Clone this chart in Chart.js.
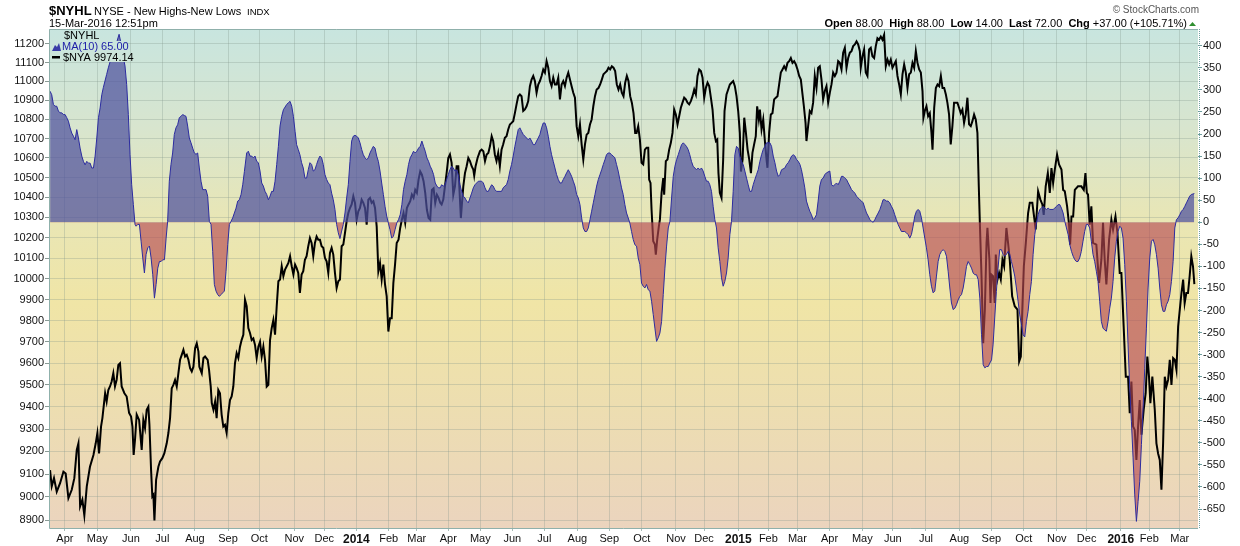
<!DOCTYPE html>
<html>
<head>
<meta charset="utf-8">
<title>$NYHL NYSE - New Highs-New Lows</title>
<script src="https://cdn.jsdelivr.net/npm/chart.js@4.4.1/dist/chart.umd.min.js"></script>
<style>
  html, body { margin: 0; padding: 0; background: #fff; }
</style>
</head>
<body>
<canvas id="grafico" width="1240" height="546"></canvas>
<script>
// $NYA (NYSE composite, log scale) - x = trading day counted from mid-March 2013
const nya = [
  [0.7,9117],[1.8,9046],[3.3,9082],[5.1,9023],[7.3,9060],[9.5,9110],[11.0,9102],[12.8,8995],[15.0,9031],[16.7,9082],
  [18.3,9207],[19.4,9236],[20.5,8959],[22.0,8988],[23.3,8920],[24.9,9046],[27.0,9132],[29.3,9184],[30.8,9236],[31.9,9282],
  [33.0,9191],[34.3,9311],[35.2,9349],[37.0,9462],[38.0,9424],[39.1,9477],[40.2,9493],[41.3,9516],[42.4,9554],[43.5,9493],
  [44.6,9523],[45.7,9592],[46.8,9600],[47.9,9493],[49.7,9462],[51.2,9447],[52.8,9372],[54.1,9356],[55.0,9311],[55.8,9184],
  [56.7,9252],[57.8,9365],[59.4,9341],[61.1,9207],[62.2,9341],[63.3,9304],[64.4,9387],[65.5,9401],[66.2,9319],[67.3,9117],
  [68.1,9002],[68.8,9009],[69.5,8898],[70.6,9075],[72.1,9132],[73.2,9155],[74.7,9170],[76.0,9191],[77.6,9236],[78.7,9282],
  [79.8,9349],[80.9,9485],[82.0,9500],[83.1,9523],[84.2,9493],[85.3,9554],[86.4,9616],[87.5,9639],[88.6,9662],[89.7,9631],
  [90.8,9639],[91.9,9616],[93.0,9577],[94.1,9562],[95.2,9584],[96.3,9670],[97.4,9693],[98.5,9654],[99.1,9584],[100.7,9554],
  [101.8,9624],[102.9,9631],[104.6,9616],[105.5,9569],[106.6,9493],[107.3,9417],[108.4,9387],[109.5,9424],[110.5,9349],[111.6,9477],
  [112.7,9462],[113.8,9365],[114.9,9311],[116.0,9319],[117.1,9282],[118.2,9372],[119.3,9431],[120.4,9447],[121.5,9493],[122.6,9600],
  [123.7,9647],[124.8,9624],[125.9,9677],[127.0,9709],[128.1,9733],[129.2,9899],[130.3,9868],[131.4,9764],[132.5,9741],[133.6,9708],
  [134.7,9716],[135.8,9685],[136.9,9624],[138.0,9677],[139.1,9700],[140.2,9631],[141.3,9677],[142.4,9616],[143.5,9492],[144.6,9500],
  [145.7,9708],[146.8,9764],[147.9,9803],[149.0,9733],[150.1,9868],[151.2,9988],[152.3,9996],[153.4,10060],[154.5,10012],[155.6,10044],
  [156.7,10060],[157.8,10076],[158.9,10109],[160.0,10060],[161.1,10020],[162.2,10068],[163.2,10052],[164.3,10028],[165.4,9931],[166.5,10020],
  [167.6,10036],[168.7,10092],[169.8,10109],[170.9,10158],[172.0,10198],[173.1,10174],[174.2,10109],[175.3,10174],[176.4,10206],[177.5,10190],
  [178.6,10190],[179.7,10158],[180.8,10150],[181.9,10101],[183.0,10084],[184.1,10028],[185.2,10125],[186.3,10150],[187.4,10117],[188.5,10028],
  [189.6,9955],[190.7,9988],[191.8,9996],[192.9,10158],[194.0,10166],[195.1,10223],[196.2,10281],[197.3,10322],[198.4,10347],[199.5,10365],
  [200.6,10406],[201.7,10373],[202.8,10289],[203.9,10330],[205.0,10347],[206.1,10389],[207.2,10373],[208.3,10347],[209.4,10264],[210.5,10389],
  [211.6,10398],[212.7,10373],[213.8,10381],[214.9,10347],[216.0,10256],[217.1,10036],[218.2,10076],[219.3,9996],[220.4,10068],[221.5,9972],
  [222.6,9915],[223.7,9748],[224.8,9811],[225.9,9811],[227.0,9980],[228.1,10068],[229.2,10174],[230.4,10190],[231.5,10248],[232.6,10289],
  [233.7,10322],[234.8,10273],[235.9,10347],[237.0,10365],[238.1,10381],[239.2,10414],[240.3,10398],[241.4,10438],[242.5,10423],[243.6,10490],
  [244.7,10531],[245.8,10515],[246.9,10482],[248.0,10423],[249.1,10338],[250.2,10297],[251.3,10289],[252.4,10438],[253.5,10446],[254.6,10373],
  [255.7,10414],[256.8,10398],[257.9,10373],[258.8,10365],[259.9,10389],[261.0,10456],[262.1,10523],[263.2,10600],[264.3,10618],[265.4,10575],
  [266.5,10414],[267.6,10456],[268.7,10558],[269.8,10558],[270.9,10389],[271.5,10297],[272.4,10389],[273.1,10456],[274.2,10523],[275.3,10558],
  [276.4,10600],[277.5,10584],[278.6,10558],[279.7,10541],[280.3,10510],[281.2,10558],[282.5,10600],[284.1,10635],[285.2,10643],[286.3,10635],
  [287.4,10584],[288.5,10618],[289.6,10626],[290.7,10661],[291.8,10712],[292.8,10687],[293.9,10618],[295.0,10584],[296.1,10626],[297.2,10558],
  [298.3,10643],[299.4,10670],[300.5,10704],[301.6,10712],[302.7,10747],[303.8,10773],[304.9,10781],[306.0,10790],[307.1,10832],[308.2,10878],
  [309.3,10921],[310.4,10930],[311.5,10921],[312.6,10843],[313.7,10851],[314.8,10868],[315.9,10895],[317.0,10974],[318.1,11009],[319.2,11028],
  [320.3,11001],[321.4,10939],[322.5,10983],[323.6,11001],[324.7,11028],[325.8,11063],[326.9,11046],[328.0,11107],[329.1,11072],[330.2,11001],
  [331.3,10974],[332.4,11019],[333.5,10983],[334.6,10983],[335.7,11019],[336.8,10904],[337.9,10983],[339.0,11001],[340.1,10974],[341.2,11019],
  [342.3,11046],[343.4,11009],[344.5,10974],[345.6,10939],[346.7,10913],[347.8,10764],[348.9,10712],[350.0,10773],[351.1,10670],[352.2,10592],
  [353.3,10670],[354.4,10720],[355.5,10729],[356.6,10773],[357.7,10799],[358.8,10868],[359.9,10921],[361.0,10956],[362.2,10964],[363.3,10983],
  [364.4,11009],[365.5,11037],[366.6,11046],[367.7,11054],[368.8,11072],[369.9,11063],[371.0,11080],[372.1,11072],[373.2,11054],[374.3,10983],
  [375.4,10956],[376.5,10983],[377.6,10939],[378.7,10921],[379.8,10992],[380.9,11028],[382.0,11001],[383.1,10921],[384.2,10887],[385.3,10832],
  [386.4,10729],[387.3,10729],[388.4,10764],[389.5,10695],[390.6,10575],[391.7,10567],[392.8,10643],[393.9,10652],[395.0,10652],[395.6,10490],
  [396.5,10473],[397.2,10338],[398.3,10182],[399.4,10166],[400.0,10117],[400.9,10190],[402.0,10256],[402.7,10289],[403.8,10423],[404.9,10498],
  [405.5,10414],[406.6,10584],[407.7,10592],[408.8,10643],[409.9,10678],[411.0,10729],[412.1,10851],[413.2,10825],[414.3,10773],[415.4,10816],
  [416.5,10860],[417.6,10887],[418.7,10913],[419.8,10904],[420.9,10887],[422.0,10878],[423.1,10895],[424.2,10921],[425.3,10956],[426.4,10930],
  [427.5,11028],[428.6,11063],[429.7,11054],[430.8,11019],[431.9,10913],[433.0,10965],[434.1,10992],[435.2,10974],[436.3,10913],[437.4,10851],
  [438.5,10729],[439.6,10687],[440.5,10695],[441.3,10523],[442.2,10423],[443.3,10398],[444.4,10592],[445.3,10843],[446.6,10930],[447.7,10956],
  [448.8,10983],[449.9,10992],[451.0,11001],[452.1,10974],[453.2,10921],[454.3,10843],[455.4,10729],[456.1,10531],[457.2,10592],[458.3,10808],
  [459.4,10729],[460.5,10643],[461.6,10592],[462.7,10523],[463.7,10626],[464.8,10670],[465.9,10712],[466.8,10868],[467.9,10799],[468.6,10851],
  [469.7,10747],[470.8,10799],[471.9,10687],[473.0,10592],[473.6,10550],[474.7,10729],[475.8,10825],[476.9,10832],[478.0,10904],[479.1,10913],
  [480.2,10921],[481.3,10983],[482.4,11046],[483.5,11063],[484.6,11080],[485.7,11063],[486.8,11098],[487.9,11107],[489.0,11124],[490.1,11098],
  [491.2,11107],[492.3,11090],[493.4,11063],[494.5,11028],[495.6,11009],[496.7,10930],[497.6,10868],[498.7,10781],[499.3,10687],[500.4,10764],
  [501.5,10843],[502.6,10832],[503.7,10887],[504.8,11028],[505.9,10965],[507.0,11072],[508.1,11080],[509.2,11009],[510.3,10904],[511.4,10948],
  [512.5,10974],[513.6,10887],[514.7,10939],[515.8,10983],[516.9,11046],[518.0,11028],[519.1,11046],[520.2,11107],[521.3,11098],[522.4,11063],
  [523.5,11153],[524.6,11179],[525.7,11072],[526.8,11124],[527.9,11153],[529.0,11161],[530.1,11188],[531.2,11197],[532.3,11214],[533.4,11197],
  [534.5,11161],[535.1,11072],[536.2,11133],[537.3,11170],[538.4,11046],[539.5,11028],[540.6,11170],[541.7,11179],[542.8,11133],[543.9,11124],
  [545.0,11188],[546.1,11231],[547.2,11223],[548.3,11240],[549.4,11223],[550.5,11249],[551.6,11080],[552.7,11116],[553.8,11090],[554.9,11116],
  [556.0,11072],[557.1,11090],[558.2,11107],[559.3,11028],[560.4,10983],[561.5,10930],[562.6,11037],[563.7,11090],[564.8,11046],[565.9,10964],
  [567.0,11037],[568.1,11046],[569.2,11098],[570.3,11072],[571.4,11161],[572.5,11098],[573.6,11063],[574.7,11046],[575.8,10948],[576.4,10808],
  [577.3,10843],[578.4,10868],[579.5,10816],[580.6,10832],[581.7,10729],[582.4,10643],[583.5,10860],[584.6,10964],[585.7,10983],[586.8,10974],
  [587.9,11028],[589.0,10964],[590.1,10964],[591.2,10930],[592.2,10887],[593.3,10825],[594.4,10670],[595.5,10764],[596.6,10887],[597.7,10887],
  [598.8,10887],[599.9,10860],[601.0,10832],[602.1,10851],[603.2,10781],[604.3,10825],[605.4,10913],[606.5,10773],[607.6,10764],[608.7,10790],
  [609.8,10825],[610.9,10799],[612.0,10729],[612.9,10456],[613.6,10273],[614.7,10012],[615.8,9693],[616.9,9852],[618.0,10174],[618.6,10248],
  [619.9,10092],[620.6,9883],[621.2,10020],[622.3,10012],[623.4,9883],[624.1,10117],[625.2,9996],[626.3,10028],[627.4,9996],[628.5,10092],
  [629.6,10060],[631.1,10248],[632.2,10174],[633.3,10092],[634.9,9915],[636.6,9868],[638.4,9852],[639.5,9608],[640.6,9631],[641.5,9835],
  [642.6,10060],[643.9,10174],[645.4,10322],[646.5,10373],[648.2,10373],[649.6,10289],[650.4,10240],[652.0,10431],[653.5,10389],[654.8,10365],
  [655.7,10313],[657.0,10456],[658.4,10523],[659.7,10423],[660.8,10548],[661.9,10473],[663.0,10541],[664.5,10618],[665.8,10567],[667.4,10541],
  [668.5,10438],[669.6,10431],[671.1,10356],[672.4,10264],[673.1,10166],[674.0,10305],[675.1,10305],[676.2,10438],[678.3,10456],[680.5,10456],
  [682.1,10438],[683.2,10523],[684.1,10423],[684.9,10414],[686.0,10264],[687.1,10356],[688.2,10174],[690.4,10166],[692.2,9980],[693.7,10092],
  [694.8,10273],[695.9,10092],[697.0,9972],[698.8,10190],[700.3,10289],[701.4,10240],[703.0,10305],[704.3,10223],[705.8,10028],[706.9,10028],
  [708.4,9772],[709.8,9538],[711.3,9538],[712.4,9371],[713.5,9516],[714.6,9311],[715.7,9296],[716.8,9162],[717.9,9311],[719.0,9431],
  [720.1,9275],[721.6,9387],[722.9,9462],[724.0,9631],[725.1,9538],[726.0,9417],[727.3,9538],[728.9,9387],[730.0,9236],[731.1,9191],
  [732.2,9162],[733.3,9031],[734.4,9236],[735.5,9538],[736.6,9493],[737.7,9523],[738.8,9616],[739.9,9500],[741.0,9624],[742.1,9616],
  [743.2,9569],[744.3,9772],[745.4,9852],[746.5,9931],[747.6,9996],[748.6,9883],[749.7,9931],[750.8,9931],[751.9,10012],[753.0,10109],
  [754.1,10060],[755.0,9974]
];

// $NYHL 10-day moving average (right axis)
const nyhlMA = [
  [0.7,297],[1.8,289],[2.9,267],[4.0,263],[5.1,263],[6.2,252],[7.3,248],[8.4,248],[9.5,244],[10.6,244],
  [11.7,237],[12.8,229],[13.9,214],[15.0,202],[16.1,195],[17.2,187],[18.3,210],[19.4,191],[20.5,168],[21.6,150],
  [22.7,138],[23.8,130],[24.9,138],[26.0,134],[27.1,134],[28.2,123],[29.3,123],[30.4,150],[31.5,191],[32.6,237],
  [33.7,259],[34.8,289],[35.8,305],[36.9,320],[38.0,335],[39.1,350],[41.3,376],[43.5,395],[46.2,426],[47.9,399],
  [49.5,365],[50.1,354],[51.2,312],[52.3,244],[53.4,154],[54.5,85],[55.6,40],[56.7,-5],[57.4,-9],[58.5,-5],
  [59.6,-5],[60.7,-43],[61.8,-81],[62.9,-115],[64.0,-73],[65.1,-58],[66.2,-54],[67.3,-81],[68.4,-119],[69.5,-172],
  [70.6,-141],[71.7,-104],[72.8,-89],[73.9,-89],[75.0,-85],[76.1,-85],[77.2,-36],[78.2,2],[79.3,93],[80.4,131],
  [81.5,157],[82.6,199],[83.7,214],[84.8,221],[85.9,237],[87.0,240],[88.1,244],[89.2,242],[90.3,240],[91.4,218],
  [92.5,191],[93.6,180],[94.7,168],[95.8,157],[96.9,154],[98.0,157],[99.1,123],[100.2,93],[101.3,74],[102.4,74],
  [103.5,74],[104.6,59],[105.7,2],[106.8,-5],[107.9,-66],[109.0,-141],[110.1,-156],[111.2,-164],[112.3,-168],[113.4,-164],
  [114.5,-160],[115.6,-156],[116.7,-111],[117.8,-51],[118.9,-5],[120.0,2],[121.1,10],[122.2,21],[123.3,32],[124.4,48],
  [125.5,51],[126.6,63],[127.7,85],[128.8,115],[130.3,157],[131.4,161],[132.5,150],[133.6,150],[134.7,146],[135.8,150],
  [136.9,138],[138.0,135],[139.1,116],[140.2,89],[141.3,82],[142.4,70],[143.5,63],[144.6,51],[145.7,59],[146.8,70],
  [147.9,70],[149.0,93],[150.1,131],[151.2,172],[152.3,218],[153.4,240],[154.5,255],[155.6,261],[156.7,267],[157.8,271],
  [158.9,274],[160.0,263],[161.1,240],[162.2,206],[163.2,176],[164.3,165],[165.4,153],[166.5,135],[167.6,123],[168.7,100],
  [169.8,100],[170.9,119],[172.0,135],[173.1,131],[174.2,116],[175.3,119],[176.4,131],[177.5,142],[178.6,150],[179.7,146],
  [180.8,131],[181.9,108],[183.0,97],[184.1,89],[185.2,85],[186.3,66],[187.4,51],[188.5,29],[189.6,-5],[190.7,-24],
  [191.8,-37],[192.9,-20],[194.0,-5],[195.1,21],[196.2,55],[197.3,85],[198.4,138],[199.5,184],[200.6,195],[201.7,197],
  [202.8,195],[203.9,191],[205.0,180],[206.1,165],[207.2,153],[208.3,146],[209.4,142],[210.5,146],[211.6,157],[212.7,165],
  [213.8,172],[214.9,168],[216.0,150],[217.1,138],[218.2,116],[219.3,89],[220.4,63],[221.5,36],[222.6,14],[223.7,-2],
  [224.8,-17],[225.9,-36],[227.0,-32],[228.1,-17],[229.2,-2],[230.4,6],[231.5,17],[232.6,40],[233.7,74],[234.8,93],
  [235.9,108],[237.0,131],[238.1,146],[239.2,153],[240.3,161],[241.4,157],[242.5,161],[243.6,168],[244.7,172],[245.8,184],
  [246.9,172],[248.0,161],[249.1,146],[250.2,138],[251.3,127],[252.4,119],[253.5,108],[254.6,89],[255.7,82],[256.8,78],
  [257.9,78],[258.8,85],[259.9,82],[261.0,85],[262.1,97],[263.2,108],[264.3,119],[265.4,127],[266.5,123],[267.6,116],
  [268.7,119],[269.8,108],[270.9,85],[272.0,70],[273.1,59],[274.2,55],[275.3,48],[276.4,44],[277.5,55],[278.6,66],
  [279.7,78],[280.8,85],[281.9,89],[283.0,93],[285.2,93],[286.3,89],[287.4,78],[288.5,70],[289.6,70],[290.7,78],
  [291.8,85],[292.8,82],[293.9,74],[295.0,70],[298.3,70],[299.4,78],[300.5,82],[301.6,85],[302.7,97],[303.8,116],
  [304.9,131],[306.0,150],[307.1,172],[308.2,191],[309.3,210],[310.4,214],[311.5,206],[312.6,199],[313.7,195],[314.8,191],
  [315.9,187],[317.0,191],[318.1,184],[319.2,176],[320.3,176],[321.4,184],[322.5,191],[323.6,199],[324.7,214],[325.8,225],
  [326.9,225],[328.0,214],[329.1,195],[330.2,172],[331.3,153],[332.4,138],[333.5,123],[334.6,108],[335.7,97],[336.8,89],
  [337.9,89],[339.0,97],[340.1,104],[341.2,112],[342.3,119],[343.4,112],[344.5,104],[345.6,93],[346.7,82],[347.8,63],
  [348.9,55],[350.0,40],[351.1,10],[352.2,-13],[353.3,-21],[354.4,-21],[355.5,-13],[356.6,6],[357.7,25],[358.8,44],
  [359.9,63],[361.0,82],[362.1,97],[363.2,108],[364.3,119],[365.4,131],[366.5,142],[367.5,153],[368.6,157],[369.7,157],
  [370.8,153],[371.9,150],[373.0,146],[374.1,131],[375.2,116],[376.3,97],[377.4,78],[378.5,63],[379.6,40],[380.7,21],
  [381.8,10],[382.9,-2],[384.0,-21],[385.1,-39],[386.2,-51],[387.3,-54],[388.4,-81],[389.5,-96],[390.6,-138],[391.7,-145],
  [392.8,-149],[393.9,-141],[395.0,-153],[396.1,-156],[397.2,-179],[398.3,-209],[399.4,-240],[400.5,-270],[401.6,-262],[402.7,-251],
  [403.8,-225],[404.9,-164],[406.0,-104],[407.1,-54],[408.2,-13],[409.3,2],[410.4,55],[411.5,104],[412.6,127],[413.7,142],
  [414.8,153],[415.9,165],[417.0,176],[418.1,180],[419.2,176],[420.2,172],[421.3,165],[422.4,153],[423.5,138],[424.6,127],
  [425.7,123],[426.8,119],[427.9,123],[429.0,119],[430.1,123],[431.2,116],[432.3,104],[433.4,93],[434.5,93],[435.6,85],
  [436.7,70],[437.8,36],[438.9,6],[440.0,-13],[441.1,-58],[442.2,-89],[443.3,-126],[444.4,-145],[445.5,-134],[446.6,-115],
  [447.7,-81],[448.8,-28],[449.9,2],[451.0,70],[452.1,153],[453.2,172],[454.3,168],[455.4,150],[456.5,138],[457.6,131],
  [458.7,116],[459.8,100],[460.9,85],[462.0,70],[463.1,70],[464.2,85],[465.3,97],[466.4,108],[467.5,119],[468.6,138],
  [469.7,153],[470.8,165],[471.9,172],[473.0,180],[475.2,180],[476.3,172],[477.4,150],[478.5,135],[479.6,116],[480.7,104],
  [481.8,108],[482.9,119],[485.1,123],[486.2,131],[487.3,135],[488.4,142],[489.5,150],[490.6,153],[491.7,150],[492.8,142],
  [493.9,138],[495.0,131],[496.0,119],[497.1,100],[498.2,78],[499.3,48],[500.4,36],[501.5,25],[502.6,17],[503.7,6],
  [504.8,10],[505.9,17],[507.0,48],[508.1,82],[509.2,97],[510.3,100],[511.4,108],[512.5,112],[514.7,116],[515.8,85],
  [516.9,82],[518.0,85],[519.1,89],[520.2,85],[521.3,93],[522.4,104],[523.5,104],[524.6,100],[525.7,97],[526.8,89],
  [527.9,82],[529.0,74],[530.1,70],[531.2,66],[532.3,59],[533.4,55],[534.5,51],[535.6,48],[536.7,44],[537.8,32],
  [538.9,21],[540.0,14],[541.1,6],[542.2,2],[543.3,0],[544.4,6],[545.5,14],[546.6,21],[547.7,29],[548.8,40],
  [549.8,51],[550.9,51],[552.0,48],[553.1,48],[554.2,44],[555.3,36],[556.4,29],[557.5,17],[558.6,6],[559.7,-5],
  [560.8,-13],[561.9,-21],[564.1,-21],[565.2,-24],[566.3,-28],[567.4,-36],[568.5,-28],[569.6,-9],[570.7,14],[571.8,25],
  [572.9,29],[574.0,25],[575.1,10],[576.2,-13],[577.3,-36],[578.4,-58],[579.5,-85],[580.6,-119],[581.7,-145],[582.8,-160],
  [583.9,-156],[585.0,-122],[586.1,-89],[587.2,-73],[588.3,-66],[589.4,-62],[590.5,-66],[591.6,-77],[592.7,-111],[593.8,-149],
  [594.9,-183],[596.0,-198],[597.1,-195],[598.2,-187],[599.3,-176],[600.4,-168],[601.5,-164],[602.6,-149],[603.7,-126],[604.8,-100],
  [605.9,-89],[607.0,-96],[608.1,-104],[609.2,-115],[610.3,-119],[611.4,-119],[612.5,-130],[613.6,-172],[614.7,-255],[615.8,-323],
  [616.9,-330],[618.0,-327],[619.1,-327],[620.2,-319],[621.3,-312],[622.3,-278],[623.4,-217],[624.5,-157],[625.6,-104],[626.7,-62],
  [627.8,-62],[628.9,-73],[630.0,-77],[631.1,-73],[632.2,-66],[633.3,-73],[634.4,-89],[635.5,-104],[636.6,-122],[637.7,-149],
  [638.8,-179],[639.9,-210],[641.0,-232],[642.1,-255],[643.2,-260],[644.3,-225],[645.4,-202],[646.5,-164],[647.6,-134],[648.7,-73],
  [649.8,-28],[650.9,-2],[652.0,17],[653.1,29],[654.2,32],[655.3,36],[656.4,32],[657.5,29],[658.6,32],[659.7,29],
  [661.9,29],[663.0,32],[664.1,36],[665.2,40],[666.3,40],[667.4,32],[668.5,21],[669.6,2],[670.7,-13],[671.8,-28],
  [672.9,-51],[674.0,-66],[675.1,-77],[676.2,-85],[677.2,-89],[678.3,-89],[679.4,-81],[680.5,-66],[681.6,-43],[682.7,-21],
  [683.8,-5],[684.9,-5],[686.0,-13],[687.1,-43],[688.2,-73],[689.3,-89],[690.4,-111],[691.5,-134],[692.6,-179],[693.7,-225],
  [694.8,-240],[695.9,-244],[697.0,-247],[698.1,-225],[699.2,-195],[700.3,-172],[701.4,-134],[702.5,-81],[703.6,-43],[704.7,-21],
  [705.8,-9],[706.9,-13],[708.0,-36],[709.1,-96],[710.2,-179],[711.3,-278],[712.4,-376],[713.5,-451],[714.6,-534],[715.7,-618],
  [716.8,-678],[717.9,-633],[719.0,-587],[720.1,-504],[721.2,-421],[722.3,-331],[723.4,-240],[724.5,-149],[725.6,-81],[726.7,-43],
  [727.8,-39],[728.9,-51],[730.0,-73],[731.1,-104],[732.2,-149],[733.3,-187],[734.4,-202],[735.5,-202],[736.6,-187],[737.7,-179],
  [738.8,-164],[739.9,-134],[741.0,-89],[742.1,-13],[743.2,6],[744.3,10],[745.4,17],[746.5,25],[747.6,29],[748.7,36],
  [749.8,44],[750.8,51],[751.9,59],[753.0,63],[754.1,64],[755.0,65]
];

// month gridlines (trading-day position of the first session of each month)
const mesesPos = [10.5,31.8,54,74.7,96.2,118,138.6,161.7,181.5,202.6,223.9,242.4,263.2,284.3,305.4,326.5,348.3,369.3,
  390.7,413.3,431.8,454.4,474.2,493.3,514.5,536.1,556.2,578.1,600.1,621.2,642.5,664.3,684,706.5,725.3,745.4];
const mesesRotulos = ['Apr','May','Jun','Jul','Aug','Sep','Oct','Nov','Dec','2014','Feb','Mar','Apr','May','Jun','Jul','Aug','Sep',
  'Oct','Nov','Dec','2015','Feb','Mar','Apr','May','Jun','Jul','Aug','Sep','Oct','Nov','Dec','2016','Feb','Mar'];
const nyaTicks = [8900,9000,9100,9200,9300,9400,9500,9600,9700,9800,9900,10000,10100,10200,10300,10400,10500,10600,10700,10800,10900,11000,11100,11200];
const nyhlTicks = [-650,-600,-550,-500,-450,-400,-350,-300,-250,-200,-150,-100,-50,0,50,100,150,200,250,300,350,400];

const FONTE = '"Liberation Sans", Arial, Helvetica, sans-serif';
const ehAno = s => /^\d{4}$/.test(s);

function gradienteFundo(ctx, a) {
    const g = ctx.createLinearGradient(0, a.top, 0, a.bottom);
    g.addColorStop(0.00, 'rgb(200,229,223)');
    g.addColorStop(0.20, 'rgb(216,229,206)');
    g.addColorStop(0.39, 'rgb(233,230,180)');
    g.addColorStop(0.55, 'rgb(240,229,166)');
    g.addColorStop(0.75, 'rgb(237,222,176)');
    g.addColorStop(1.00, 'rgb(235,212,190)');
    return g;
}

const fundo = {
    id: 'fundo',
    beforeDraw(chart) {
        const { ctx, chartArea: a } = chart;
        ctx.save();
        ctx.fillStyle = '#fff';
        ctx.fillRect(0, 0, chart.width, chart.height);
        ctx.fillStyle = gradienteFundo(ctx, a);
        ctx.fillRect(a.left, a.top, a.right - a.left, a.bottom - a.top);
        ctx.restore();
    }
};

// legend boxes sit on top of the plot, like the original
const legenda = {
    id: 'legenda',
    afterDatasetsDraw(chart) {
        const { ctx, chartArea: a } = chart;
        ctx.save();
        ctx.fillStyle = gradienteFundo(ctx, a);
        ctx.fillRect(62, 30, 41, 11);
        ctx.fillRect(50, 41, 74, 11);
        ctx.fillRect(50, 52, 76, 10);
        ctx.textBaseline = 'middle';
        ctx.font = '11px ' + FONTE;
        ctx.fillStyle = '#000';
        ctx.fillText('$NYHL', 64, 36);
        ctx.fillStyle = '#3a3ca8';
        ctx.beginPath();
        ctx.moveTo(52, 51); ctx.lineTo(55, 45); ctx.lineTo(57, 47); ctx.lineTo(59, 43); ctx.lineTo(61, 51);
        ctx.closePath(); ctx.fill();
        ctx.fillStyle = '#1c1ca8';
        ctx.fillText('MA(10) 65.00', 62, 47);
        ctx.fillStyle = '#000';
        ctx.fillRect(52, 56, 8, 2.5);
        ctx.fillText('$NYA 9974.14', 63, 57.5);
        ctx.restore();
    }
};

const moldura = {
    id: 'moldura',
    afterDraw(chart) {
        const { ctx, chartArea: a } = chart;
        ctx.save();
        ctx.strokeStyle = '#8fb0ab';
        ctx.lineWidth = 1;
        ctx.beginPath();
        ctx.moveTo(a.right, a.top + 0.5); ctx.lineTo(a.left + 0.5, a.top + 0.5);
        ctx.lineTo(a.left + 0.5, a.bottom + 0.5); ctx.lineTo(a.right, a.bottom + 0.5);
        ctx.stroke();
        ctx.setLineDash([1, 1]);
        ctx.strokeStyle = '#6f9f9f';
        ctx.beginPath();
        ctx.moveTo(a.right + 1.5, a.top); ctx.lineTo(a.right + 1.5, a.bottom + 1);
        ctx.stroke();
        ctx.setLineDash([]);

        // header
        ctx.textBaseline = 'alphabetic';
        ctx.fillStyle = '#000';
        ctx.font = 'bold 13px ' + FONTE;
        ctx.fillText('$NYHL', 49, 15);
        ctx.font = '11px ' + FONTE;
        ctx.fillText('NYSE - New Highs-New Lows', 94, 15);
        ctx.font = '9.5px ' + FONTE;
        ctx.fillText('INDX', 247, 15);
        ctx.font = '11px ' + FONTE;
        ctx.fillText('15-Mar-2016 12:51pm', 49, 27);

        ctx.fillStyle = '#555';
        ctx.font = '10px ' + FONTE;
        ctx.textAlign = 'right';
        ctx.fillText('\u00A9 StockCharts.com', 1199, 13);

        const partes = [['Open', true], [' 88.00  ', false], ['High', true], [' 88.00  ', false], ['Low', true],
            [' 14.00  ', false], ['Last', true], [' 72.00  ', false], ['Chg', true], [' +37.00 (+105.71%)', false]];
        ctx.textAlign = 'left';
        let largura = 0;
        partes.forEach(([t, b]) => { ctx.font = (b ? 'bold ' : '') + '11px ' + FONTE; largura += ctx.measureText(t).width; });
        let x = 1187 - largura;
        ctx.fillStyle = '#000';
        partes.forEach(([t, b]) => {
            ctx.font = (b ? 'bold ' : '') + '11px ' + FONTE;
            ctx.fillText(t, x, 27);
            x += ctx.measureText(t).width;
        });
        ctx.fillStyle = '#2f8f2f';
        ctx.beginPath();
        ctx.moveTo(1189, 26); ctx.lineTo(1192.5, 22); ctx.lineTo(1196, 26); ctx.closePath(); ctx.fill();
        ctx.restore();
    }
};

new Chart(document.getElementById('grafico'), {
    type: 'line',
    data: {
        datasets: [{
            label: '$NYA',
            data: nya,
            yAxisID: 'y',
            borderColor: '#000',
            borderWidth: 2,
            pointRadius: 0,
            fill: false,
            order: 1
        }, {
            label: 'MA(10)',
            data: nyhlMA,
            yAxisID: 'y2',
            borderColor: '#2c2ca0',
            borderWidth: 1,
            pointRadius: 0,
            fill: { target: 'origin', above: 'rgba(78,80,158,0.72)', below: 'rgba(182,72,82,0.64)' },
            order: 0
        }]
    },
    options: {
        responsive: false,
        animation: false,
        events: [],
        layout: { padding: { top: 29, left: 0, right: 0, bottom: 0 } },
        plugins: { legend: { display: false }, tooltip: { enabled: false } },
        scales: {
            x: {
                type: 'linear',
                min: 0,
                max: 757.4,
                afterBuildTicks: s => { s.ticks = mesesPos.map(v => ({ value: v })); },
                afterFit: s => { s.height = 18; },
                border: { display: false },
                grid: { color: 'rgba(130,150,140,0.3)', tickLength: 3, tickColor: '#a8bcb6' },
                ticks: {
                    autoSkip: false,
                    maxRotation: 0,
                    padding: 1,
                    color: '#111',
                    callback: (v, i) => mesesRotulos[i],
                    font: c => ({ family: FONTE, size: ehAno(mesesRotulos[c.index]) ? 12 : 11, weight: ehAno(mesesRotulos[c.index]) ? 'bold' : 'normal' })
                }
            },
            y: {
                type: 'logarithmic',
                position: 'left',
                min: 8866,
                max: 11281,
                afterBuildTicks: s => { s.ticks = nyaTicks.map(v => ({ value: v })); },
                afterFit: s => { s.width = 49; },
                border: { display: false },
                grid: { color: 'rgba(130,150,140,0.3)', tickLength: 4, tickColor: '#8a9a95' },
                ticks: { padding: 1, color: '#111', font: { family: FONTE, size: 11 }, callback: v => String(v) }
            },
            y2: {
                type: 'linear',
                position: 'right',
                min: -693,
                max: 438,
                afterBuildTicks: s => { s.ticks = nyhlTicks.map(v => ({ value: v })); },
                afterFit: s => { s.width = 42; },
                border: { display: false },
                grid: { drawOnChartArea: false, tickLength: 4, tickColor: '#6f9f9f' },
                ticks: { padding: 1, color: '#111', font: { family: FONTE, size: 11 }, callback: v => String(v) }
            }
        }
    },
    plugins: [fundo, legenda, moldura]
});
</script>
</body>
</html>
